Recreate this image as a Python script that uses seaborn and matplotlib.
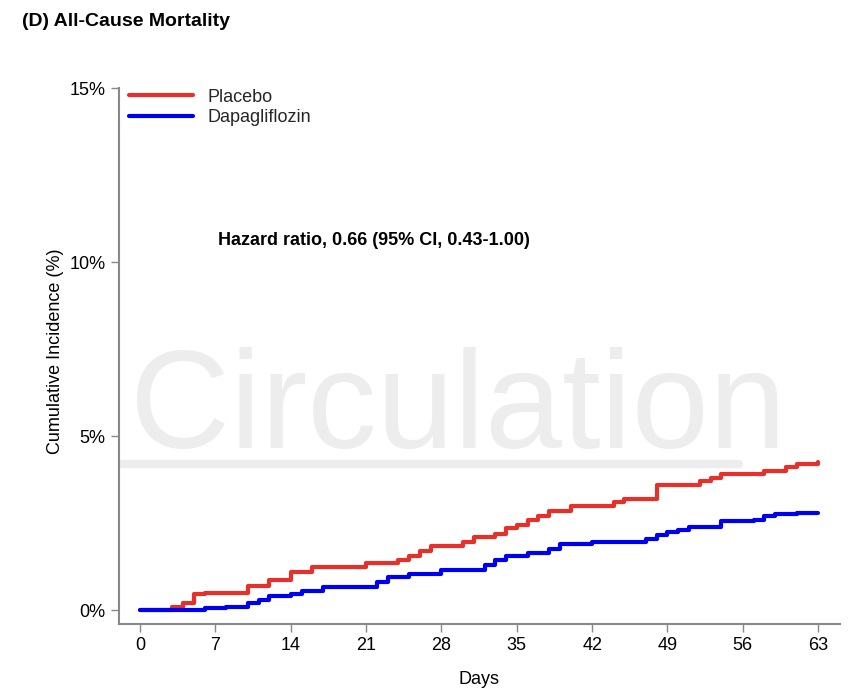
import matplotlib.pyplot as plt
import seaborn as sns
import pandas as pd

sns.set_style("white")
plt.rcParams['font.family'] = ['Liberation Sans', 'DejaVu Sans']

# step data (day, cumulative %)
placebo_days = [0, 3, 4, 5, 6, 10, 12, 14, 16, 21, 24, 25, 26, 27, 30, 31, 33, 34, 35, 36,
                37, 38, 40, 44, 45, 48, 52, 53, 54, 58, 60, 61, 63]
placebo_pct = [0, 0.1, 0.2, 0.45, 0.5, 0.7, 0.85, 1.1, 1.25, 1.35, 1.45, 1.55, 1.7, 1.85,
               1.95, 2.1, 2.2, 2.35, 2.45, 2.6, 2.7, 2.85, 3.0, 3.1, 3.2, 3.6, 3.7, 3.8,
               3.9, 4.0, 4.1, 4.2, 4.25]
dapa_days = [0, 6, 8, 10, 11, 12, 14, 15, 17, 22, 23, 25, 28, 32, 33, 34, 36, 38, 39, 42,
             47, 48, 49, 50, 51, 54, 57, 58, 59, 61, 63]
dapa_pct = [0, 0.05, 0.1, 0.2, 0.3, 0.4, 0.45, 0.55, 0.65, 0.8, 0.95, 1.05, 1.15, 1.3,
            1.45, 1.55, 1.65, 1.75, 1.9, 1.95, 2.05, 2.15, 2.25, 2.3, 2.4, 2.55, 2.6, 2.7,
            2.75, 2.8, 2.8]
xticks = [0, 7, 14, 21, 28, 35, 42, 49, 56, 63]
yticks = [0, 5, 10, 15]

df = pd.concat([
    pd.DataFrame({'day': placebo_days, 'pct': placebo_pct, 'arm': 'Placebo'}),
    pd.DataFrame({'day': dapa_days, 'pct': dapa_pct, 'arm': 'Dapagliflozin'}),
])

fig = plt.figure(figsize=(8.66, 6.93), dpi=100)
ax = fig.add_axes([0.137, 0.0996, 0.8326, 0.788])

# watermark
ax.text(29.5, 5.7, 'Circulation', fontsize=100, color='#ededed', ha='center', va='center',
        fontweight='light', zorder=0)
ax.axhline(4.2, xmin=-0.01, xmax=0.86, color='#ededed', lw=6, zorder=0)

sns.lineplot(data=df, x='day', y='pct', hue='arm', drawstyle='steps-post',
             palette={'Placebo': '#e8302a', 'Dapagliflozin': '#0000f0'}, lw=3,
             ax=ax, legend=False)
ax.plot([], [], color='#e8302a', lw=3, label='Placebo')
ax.plot([], [], color='#0000f0', lw=3, label='Dapagliflozin')
ax.legend(loc='upper left', frameon=False, fontsize=13, handlelength=3.5,
          borderaxespad=0.2, labelspacing=0.2)

ax.text(7.2, 10.5, 'Hazard ratio, 0.66 (95% CI, 0.43-1.00)', fontsize=13,
        fontweight='bold', color='black')

ax.set_xlim(-2, 65)
ax.set_ylim(-0.4, 15.3)
ax.set_xticks(xticks)
ax.set_yticks(yticks)
ax.set_yticklabels([f'{v}%' for v in yticks])
ax.tick_params(axis='both', direction='out', length=6, width=1, color='#888888',
               labelsize=13, bottom=True, left=True, labelcolor='black')
for s in ['top', 'right']:
    ax.spines[s].set_visible(False)
for s in ['left', 'bottom']:
    ax.spines[s].set_color('#888888')
    ax.spines[s].set_linewidth(1.5)
ax.spines['left'].set_bounds(-0.4, 15)
ax.set_xlabel('Days', fontsize=13, labelpad=12, color='black')
ax.set_ylabel('Cumulative Incidence (%)', fontsize=13, color='black')

fig.text(0.025, 0.962, '(D) All-Cause Mortality', fontsize=14, fontweight='bold',
         color='black')

fig.savefig('out.png')
